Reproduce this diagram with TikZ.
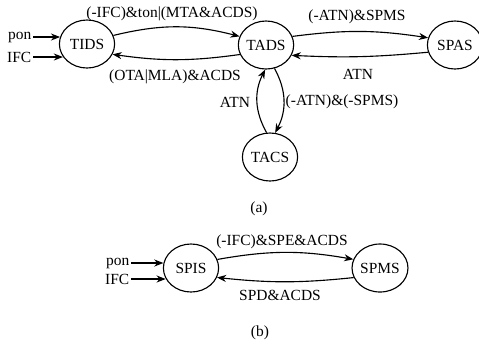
\documentclass[tikz,border=0pt]{standalone}
\usepackage{fontspec}
\setmainfont{Liberation Serif}
\usetikzlibrary{arrows.meta,shapes.geometric}

\begin{document}
\begin{tikzpicture}[
    x=0.025cm, y=-0.025cm,
    state/.style={ellipse, draw, thick, minimum width=1.38cm, minimum height=1.2cm,
                  inner sep=0pt, font=\fontsize{11}{13}\selectfont},
    cond/.style={font=\fontsize{11}{13}\selectfont, inner sep=1pt},
    trans/.style={-{Stealth[length=6.5pt,width=5pt]}, thick},
    >=stealth
  ]
    \useasboundingbox (0,0) rectangle (479,345);

    % (a)
    \node[state] (tids) at (87,44) {TIDS};
    \node[state] (tads) at (266,45) {TADS};
    \node[state] (spas) at (455,45) {SPAS};
    \node[state] (tacs) at (270,157) {TACS};

    \node[cond, anchor=east] (pona) at (33,37) {pon};
    \node[cond, anchor=east] (ifca) at (33,57) {IFC};
    \draw[trans] (pona.east) -- (pona.east -| tids.165);
    \draw[trans] (ifca.east) -- (ifca.east -| tids.208);

    \draw[trans] (tids.18) to[bend left=14] (tads.162);
    \draw[trans] (tads.200) to[bend left=8] (tids.338);
    \draw[trans] (tads.18) to[bend left=8] (spas.165);
    \draw[trans] (spas.195) to[bend left=4] (tads.338);
    \draw[trans] (tacs.98) to[bend left=28] (tads.268);
    \draw[trans] (tads.290) to[bend left=28] (tacs.78);

    \node[cond] (c1) at (172,14) {(-IFC)\&ton|(MTA\&ACDS)};
    \node[cond] (c2) at (175,77) {(OTA|MLA)\&ACDS};
    \node[cond] (c3) at (357,17) {(-ATN)\&SPMS};
    \node[cond] (c4) at (358,74) {ATN};
    \node[cond] (c5) at (235,102) {ATN};
    \node[cond] (c6) at (342,102) {(-ATN)\&(-SPMS)};
    \node[cond] (capa) at (259,209) {(a)};

    % (b)
    \node[state] (spis) at (191,268) {SPIS};
    \node[state] (spms) at (380,268) {SPMS};

    \node[cond, anchor=east] (ponb) at (131,263) {pon};
    \node[cond, anchor=east] (ifcb) at (131,279) {IFC};
    \draw[trans] (ponb.east) -- (ponb.east -| spis.170);
    \draw[trans] (ifcb.east) -- (ifcb.east -| spis.203);

    \draw[trans] (spis.18) to[bend left=10] (spms.162);
    \draw[trans] (spms.200) to[bend left=6] (spis.340);

    \node[cond] (c7) at (282,242) {(-IFC)\&SPE\&ACDS};
    \node[cond] (c8) at (280,295) {SPD\&ACDS};
    \node[cond] (capb) at (260,333) {(b)};
  \end{tikzpicture}
\end{document}
